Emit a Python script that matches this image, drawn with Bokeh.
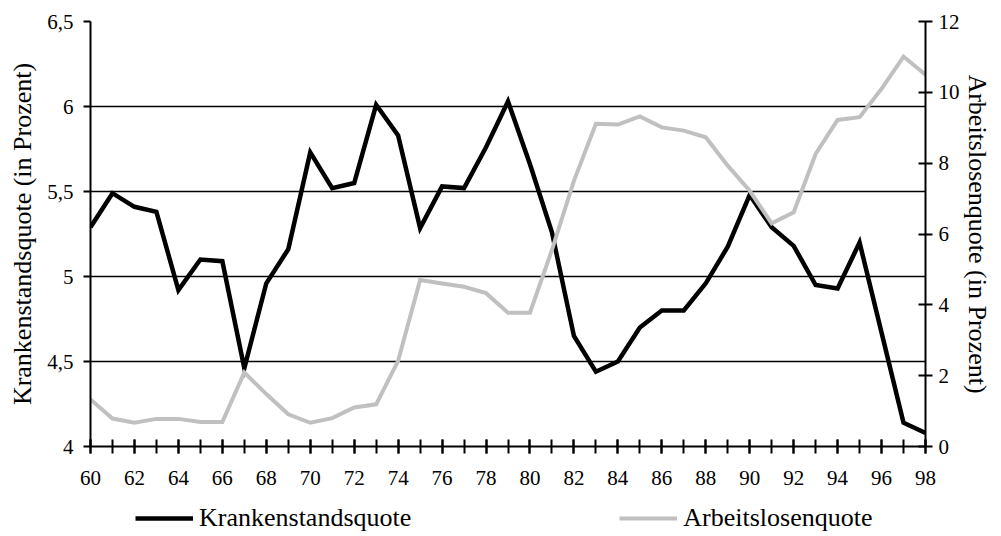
from bokeh.plotting import figure
from bokeh.layouts import column
from bokeh.models import Range1d, LinearAxis, FixedTicker, Legend, LegendItem
from bokeh.embed import file_html
from bokeh.resources import INLINE

years = list(range(60, 99))
krankenstand = [5.29, 5.49, 5.41, 5.38, 4.92, 5.10, 5.09, 4.46, 4.96, 5.16,
                5.73, 5.52, 5.55, 6.01, 5.83, 5.285, 5.53, 5.52, 5.76, 6.03,
                5.66, 5.26, 4.65, 4.44, 4.50, 4.70, 4.80, 4.80, 4.96, 5.175,
                5.48, 5.29, 5.18, 4.95, 4.93, 5.20, 4.67, 4.14, 4.08]
arbeitslosen = [1.33, 0.79, 0.67, 0.78, 0.78, 0.69, 0.69, 2.09, 1.48, 0.91,
                0.67, 0.80, 1.10, 1.19, 2.42, 4.70, 4.60, 4.51, 4.33, 3.78,
                3.78, 5.55, 7.50, 9.11, 9.09, 9.32, 9.01, 8.92, 8.73, 7.93,
                7.22, 6.30, 6.61, 8.26, 9.22, 9.30, 10.10, 11.01, 10.50]

x_label_ticks = list(range(60, 99, 2))
left_ticks = [4, 4.5, 5, 5.5, 6, 6.5]
left_tick_labels = ["4", "4,5", "5", "5,5", "6", "6,5"]
right_ticks = [0, 2, 4, 6, 8, 10, 12]
series_names = ["Krankenstandsquote", "Arbeitslosenquote"]

FONT = "Liberation Serif"
TICK_SIZE = "21px"
TITLE_SIZE = "26px"
BLACK, GREY = "black", "#c0c0c0"

p = figure(width=1001, height=496, output_backend="svg", toolbar_location=None,
           x_range=Range1d(60, 98), y_range=Range1d(4, 6.5),
           min_border_left=90, min_border_right=76, min_border_top=21,
           min_border_bottom=50)
p.outline_line_color = None
p.background_fill_color = "white"
p.border_fill_color = "white"
p.extra_y_ranges = {"right": Range1d(0, 12)}

# x axis
xa = p.xaxis[0]
xa.ticker = FixedTicker(ticks=x_label_ticks, minor_ticks=years)
xa.axis_line_color = "black"
xa.axis_line_width = 2
xa.major_tick_line_width = 2
xa.minor_tick_line_width = 2
xa.major_tick_in = 7
xa.major_tick_out = 7
xa.minor_tick_in = 7
xa.minor_tick_out = 7
xa.major_label_standoff = 17
xa.major_label_text_font = FONT
xa.major_label_text_font_size = TICK_SIZE
xa.major_label_text_color = "black"

# left axis
ya = p.yaxis[0]
ya.ticker = FixedTicker(ticks=left_ticks, minor_ticks=[])
ya.major_label_overrides = {t: l for t, l in zip(left_ticks, left_tick_labels)}
ya.axis_line_width = 2
ya.major_tick_line_width = 2
ya.major_tick_in = 0
ya.major_tick_out = 7
ya.minor_tick_line_color = None
ya.major_label_standoff = 10
ya.major_label_text_font = FONT
ya.major_label_text_font_size = TICK_SIZE
ya.major_label_text_color = "black"
ya.axis_label = "Krankenstandsquote (in Prozent)"
ya.axis_label_text_font = FONT
ya.axis_label_text_font_size = TITLE_SIZE
ya.axis_label_text_font_style = "normal"
ya.axis_label_text_color = "black"
ya.axis_label_standoff = 7

# right axis
ra = LinearAxis(y_range_name="right", ticker=FixedTicker(ticks=right_ticks, minor_ticks=[]))
ra.axis_line_width = 2
ra.major_tick_line_width = 2
ra.major_tick_in = 7
ra.major_tick_out = 7
ra.minor_tick_line_color = None
ra.major_label_standoff = 6
ra.major_label_text_font = FONT
ra.major_label_text_font_size = TICK_SIZE
ra.major_label_text_color = "black"
ra.axis_label = "Arbeitslosenquote (in Prozent)"
ra.axis_label_text_font = FONT
ra.axis_label_text_font_size = TITLE_SIZE
ra.axis_label_text_font_style = "normal"
ra.axis_label_text_color = "black"
ra.axis_label_standoff = 0
p.add_layout(ra, "right")

p.xgrid.grid_line_color = None
p.ygrid.grid_line_color = "black"
p.ygrid.grid_line_width = 1.5
p.ygrid.ticker = FixedTicker(ticks=left_ticks)

p.line(years, krankenstand, line_color=BLACK, line_width=4.5, line_join="miter")
p.line(years, arbeitslosen, y_range_name="right", line_color=GREY,
       line_width=4, line_join="miter")

# legend strip below the chart (series drawn outside its ranges, so only the
# legend is visible)
lf = figure(width=1001, height=40, output_backend="svg", toolbar_location=None,
            x_range=Range1d(0, 1), y_range=Range1d(0, 1),
            x_axis_type=None, y_axis_type=None, min_border=0)
lf.outline_line_color = None
lf.xgrid.visible = False
lf.ygrid.visible = False
lf.background_fill_alpha = 0
k1 = lf.line(years, krankenstand, line_color=BLACK, line_width=4.5)
k2 = lf.line(years, arbeitslosen, line_color=GREY, line_width=4)
legend = Legend(items=[LegendItem(label=series_names[0], renderers=[k1]),
                       LegendItem(label=series_names[1], renderers=[k2])],
                orientation="horizontal", location=(45, 3),
                glyph_width=58, glyph_height=20, label_standoff=6, spacing=208,
                padding=0, margin=0, border_line_color=None,
                background_fill_alpha=0,
                label_text_font=FONT, label_text_font_size=TITLE_SIZE,
                label_text_color="black")
lf.add_layout(legend, "center")

layout = column(p, lf, spacing=0)
open("out.html", "w").write(file_html(layout, INLINE))
